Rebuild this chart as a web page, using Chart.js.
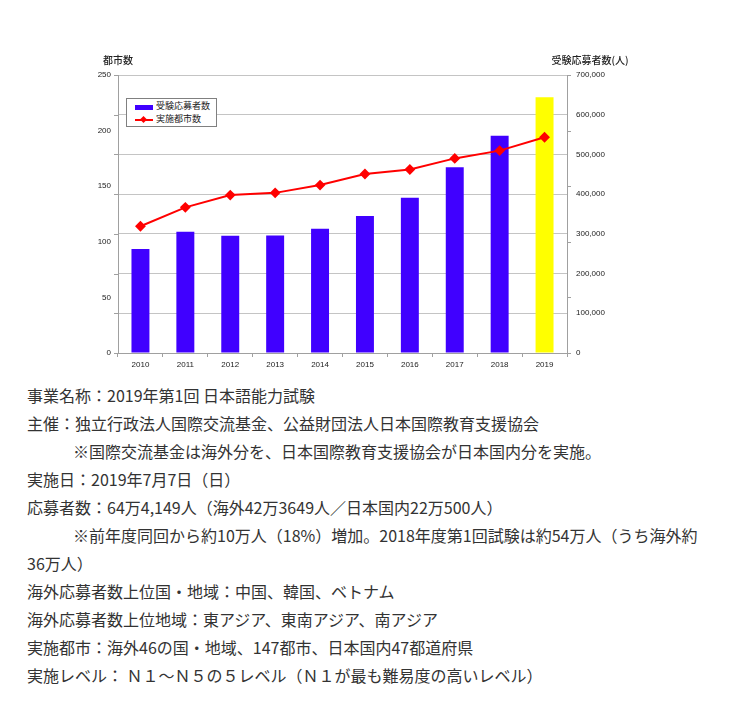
<!DOCTYPE html>
<html lang="ja">
<head>
<meta charset="utf-8">
<script src="https://cdn.jsdelivr.net/npm/chart.js@4.4.1/dist/chart.umd.min.js"></script>
<style>
    body { margin: 0; background: #fff; }
    #chartBox { position: absolute; left: 0; top: 0; width: 752px; height: 375px; }
    #legend {
        position: absolute; left: 126px; top: 98px; width: 89px; height: 27px;
        border: 1px solid #808080; background: #fff;
        font-family: "Noto Sans CJK JP", sans-serif; font-size: 9px; color: #222;
    }
    .item { position: absolute; left: 8px; height: 12px; line-height: 12px; white-space: nowrap; }
    .item span.mark { display: inline-block; vertical-align: middle; position: relative; width: 18px; height: 12px; margin-right: 3px; }
    #info {
        position: absolute; left: 27px; top: 381px; width: 675px;
        font-family: "Noto Sans CJK JP", sans-serif; font-size: 16px; line-height: 28px; color: #333;
    }
    #info p { margin: 0; }
    #info p.indent { text-indent: 46px; }
</style>
</head>
<body>
<div id="chartBox"><canvas id="jlptChart"></canvas></div>
<div id="legend"></div>
<div id="info"></div>
<script>
// データ
const years = ['2010', '2011', '2012', '2013', '2014', '2015', '2016', '2017', '2018', '2019'];
const applicants = [262000, 305000, 295000, 296000, 313000, 345000, 391000, 468000, 547000, 644149];
const cities = [114, 131, 142, 144, 151, 161, 165, 175, 182, 194];
const cityTicks = [0, 50, 100, 150, 200, 250];
const applicantTicks = [0, 100000, 200000, 300000, 400000, 500000, 600000, 700000];
const seriesNames = ['受験応募者数', '実施都市数'];
const leftTitle = '都市数';
const rightTitle = '受験応募者数(人)';

const infoLines = [
    ['事業名称：2019年第1回 日本語能力試験', false],
    ['主催：独立行政法人国際交流基金、公益財団法人日本国際教育支援協会', false],
    ['※国際交流基金は海外分を、日本国際教育支援協会が日本国内分を実施。', true],
    ['実施日：2019年7月7日（日）', false],
    ['応募者数：64万4,149人（海外42万3649人／日本国内22万500人）', false],
    ['※前年度同回から約10万人（18%）増加。2018年度第1回試験は約54万人（うち海外約36万人）', true],
    ['海外応募者数上位国・地域：中国、韓国、ベトナム', false],
    ['海外応募者数上位地域：東アジア、東南アジア、南アジア', false],
    ['実施都市：海外46の国・地域、147都市、日本国内47都道府県', false],
    ['実施レベル： Ｎ１～Ｎ５の５レベル（Ｎ１が最も難易度の高いレベル）', false],
];

const BAR_COLOR = '#4000ff';
const LAST_COLOR = '#ffff00';
const LINE_COLOR = '#ff0000';
const GRID_COLOR = '#c4c4c4';
const AXIS_COLOR = '#a0a0a0';

const barColors = applicants.map((v, i) => i === applicants.length - 1 ? LAST_COLOR : BAR_COLOR);

// 軸タイトルとクロスした目盛り線
const extrasPlugin = {
    id: 'extras',
    afterDraw(chart) {
        const { ctx, chartArea, scales } = chart;
        ctx.save();
        ctx.strokeStyle = AXIS_COLOR;
        ctx.lineWidth = 1;
        scales.y.ticks.forEach((t, i) => {
            const py = Math.round(scales.y.getPixelForTick(i)) + 0.5;
            ctx.beginPath();
            ctx.moveTo(chartArea.right, py);
            ctx.lineTo(chartArea.right + 4, py);
            ctx.stroke();
        });
        scales.y1.ticks.forEach((t, i) => {
            const py = Math.round(scales.y1.getPixelForTick(i)) + 0.5;
            ctx.beginPath();
            ctx.moveTo(chartArea.left - 4, py);
            ctx.lineTo(chartArea.left, py);
            ctx.stroke();
        });
        ctx.fillStyle = '#222';
        ctx.font = '500 10px "Noto Sans CJK JP"';
        ctx.textBaseline = 'middle';
        ctx.textAlign = 'center';
        ctx.fillText(leftTitle, chartArea.left, 60);
        ctx.fillText(rightTitle, chartArea.right + 23, 60);
        ctx.restore();
    }
};

new Chart(document.getElementById('jlptChart'), {
    data: {
        labels: years,
        datasets: [
            {
                type: 'line',
                label: seriesNames[1],
                data: cities,
                yAxisID: 'y',
                borderColor: LINE_COLOR,
                backgroundColor: LINE_COLOR,
                borderWidth: 2,
                pointStyle: 'rectRot',
                pointRadius: 4,
                tension: 0,
                order: 0,
            },
            {
                type: 'bar',
                label: seriesNames[0],
                data: applicants,
                yAxisID: 'y1',
                backgroundColor: barColors,
                borderWidth: 0,
                barPercentage: 0.4,
                categoryPercentage: 1,
                order: 1,
            },
        ],
    },
    options: {
        responsive: true,
        maintainAspectRatio: false,
        animation: false,
        layout: { padding: { top: 75, left: 0, right: 0, bottom: 0 } },
        plugins: {
            legend: { display: false },
            tooltip: { enabled: false },
        },
        scales: {
            x: {
                offset: true,
                grid: { offset: true, drawOnChartArea: false, drawTicks: true, tickLength: 4, tickColor: AXIS_COLOR },
                border: { color: AXIS_COLOR },
                ticks: { padding: 3, color: '#222', font: { family: 'Liberation Sans', size: 8 } },
                afterFit(scale) { scale.height = 22; },
            },
            y: {
                position: 'left',
                min: 0,
                max: 250,
                afterBuildTicks(scale) { scale.ticks = cityTicks.map(v => ({ value: v })); },
                grid: { drawOnChartArea: false, drawTicks: false },
                border: { color: AXIS_COLOR },
                ticks: { padding: 7, color: '#222', font: { family: 'Liberation Sans', size: 8 } },
                afterFit(scale) { scale.width = 118; },
            },
            y1: {
                position: 'right',
                min: 0,
                max: 700000,
                afterBuildTicks(scale) { scale.ticks = applicantTicks.map(v => ({ value: v })); },
                grid: { drawOnChartArea: true, drawTicks: false, color: GRID_COLOR },
                border: { color: AXIS_COLOR },
                ticks: {
                    padding: 9,
                    color: '#222',
                    font: { family: 'Liberation Sans', size: 8 },
                    callback: function (value) {
                        return Number(value).toLocaleString('en-US');
                    }
                },
                afterFit(scale) { scale.width = 185; },
            },
        },
    },
    plugins: [extrasPlugin],
});

// 凡例
const legend = document.getElementById('legend');
legend.innerHTML =
    '<div class="item" style="top:1px"><span class="mark"><span style="position:absolute;left:0;top:4px;width:18px;height:5px;background:' + BAR_COLOR + '"></span></span>' + seriesNames[0] + '</div>' +
    '<div class="item" style="top:14px"><span class="mark"><span style="position:absolute;left:0;top:5px;width:18px;height:2px;background:' + LINE_COLOR + '"></span>' +
    '<span style="position:absolute;left:6px;top:3px;width:5px;height:5px;background:' + LINE_COLOR + ';transform:rotate(45deg)"></span></span>' + seriesNames[1] + '</div>';

// 説明文
document.getElementById('info').innerHTML = infoLines
    .map(([text, indent]) => '<p' + (indent ? ' class="indent"' : '') + '>' + text + '</p>')
    .join('');
</script>
</body>
</html>
